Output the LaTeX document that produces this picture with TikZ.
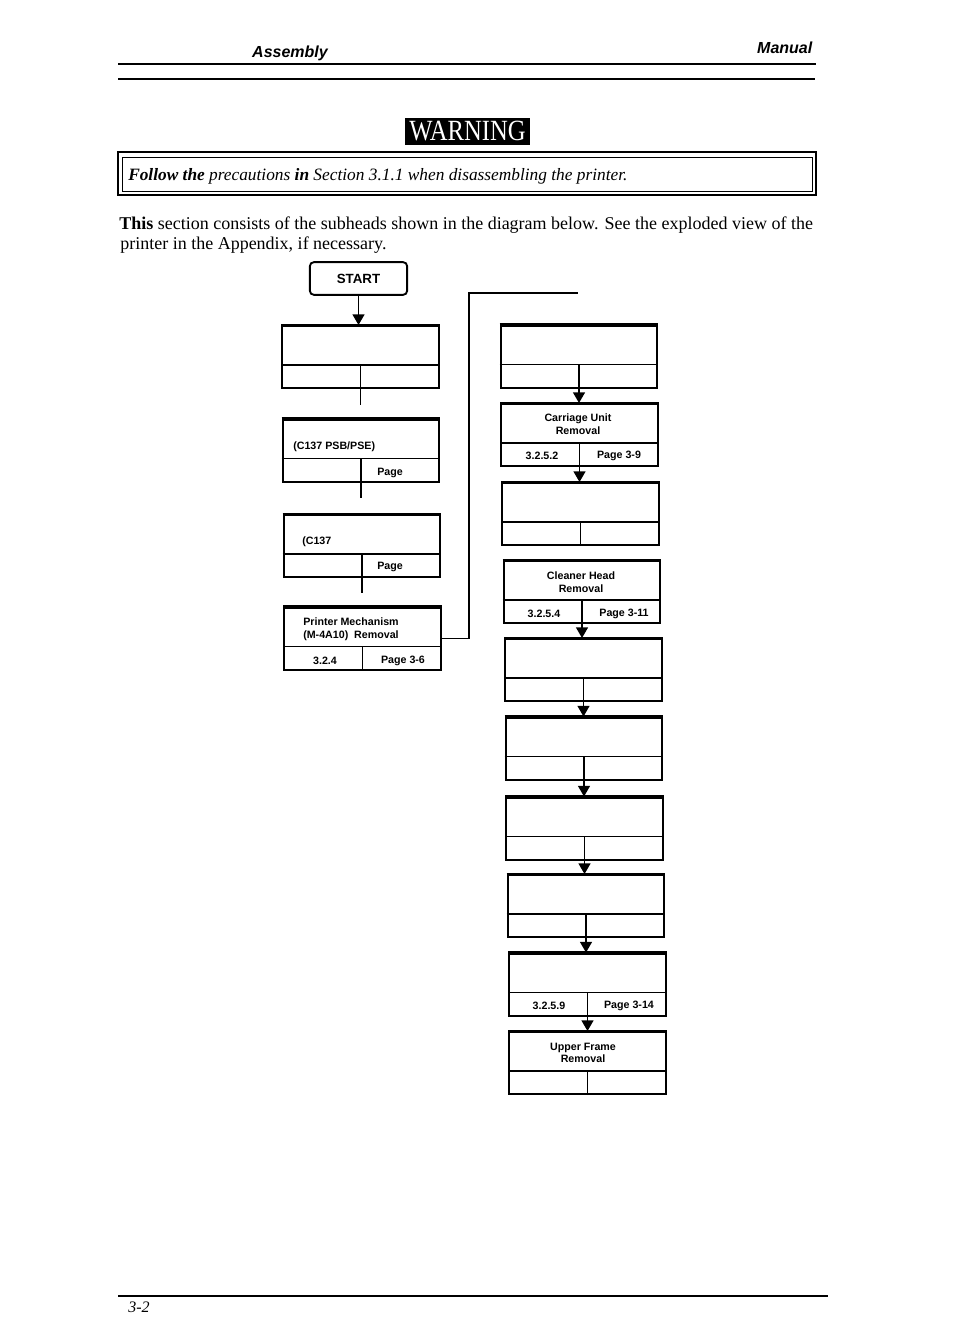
\documentclass[tikz,border=0pt]{standalone}
\usepackage{fontspec}
\setmainfont{Liberation Serif}
\setsansfont{Liberation Sans}
\usetikzlibrary{arrows.meta, calc, positioning}
\tikzset{
  subbox/.style={draw, line width=1.5pt, minimum width=117.5pt, minimum height=46.5pt, inner sep=0pt},
  boxtext/.style={font=\sffamily\bfseries\fontsize{8}{9.5}\selectfont, align=center, inner sep=0pt},
  flow/.style={line width=1pt, -{Triangle[width=9pt,length=8pt]}},
  stub/.style={line width=0.8pt},
}
\begin{document}
\begin{tikzpicture}[x=0.75pt, y=-0.75pt]
        \useasboundingbox[fill=white] (0,0) rectangle (954,1344);

        % Running head
        \node[anchor=base, font=\sffamily\bfseries\itshape\fontsize{12}{14}\selectfont] (headl) at (290,58) {Assembly};
        \node[anchor=base east, font=\sffamily\bfseries\itshape\fontsize{12}{14}\selectfont] (headr) at (817,54) {Manual};
        \draw[line width=1.5pt] (118,64) -- (816,64);
        \draw[line width=0.8pt] (118,79) -- (815,79);

        % Warning
        \node[fill=black, text=white, font=\fontsize{22}{22}\selectfont, minimum width=94pt, minimum height=20pt, inner sep=0.5pt] (warn) at (467.5,131.5) {\scalebox{0.84}[1]{WARNING}};
        \draw[line width=1.6pt] (118,152) rectangle (816,195);
        \draw[line width=0.6pt] (122,157) rectangle (812,191);
        \node[anchor=base west, font=\itshape\fontsize{13}{15}\selectfont, inner sep=0pt] (warntext) at (128,181)
            {\textbf{Follow the} precautions \textbf{in} Section 3.1.1 when disassembling the printer.};

        % Intro
        \node[anchor=base west, font=\fontsize{13.5}{15}\selectfont, inner sep=0pt] (introa) at (119,230)
            {\textbf{This} section consists of the subheads shown in the diagram below. See the exploded view of the};
        \node[anchor=base west, font=\fontsize{13.5}{15}\selectfont, inner sep=0pt] (introb) at (120,250)
            {printer in the Appendix, if necessary.};

        % Start
        \node[draw, rounded corners=3pt, line width=1.4pt, minimum width=73pt, minimum height=24.5pt,
              font=\sffamily\bfseries\fontsize{10}{12}\selectfont] (start) at (358.5,278.5) {START};

        % Left column
        \node[subbox] (l1) at (360.5,357) {};
        \node[subbox] (l2) at (361,450.5) {};
        \node[subbox] (l3) at (362,546) {};
        \node[subbox] (l4) at (362.5,638.5) {};

        % Right column
        \node[subbox] (r1) at (579,356.5) {};
        \node[subbox] (r2) at (579.5,435) {};
        \node[subbox] (r3) at (580.5,514) {};
        \node[subbox] (r4) at (582,592) {};
        \node[subbox] (r5) at (583.5,670) {};
        \node[subbox] (r6) at (584,748.5) {};
        \node[subbox] (r7) at (584.5,828.5) {};
        \node[subbox] (r8) at (586,906) {};
        \node[subbox] (r9) at (587.5,984.5) {};
        \node[subbox] (r10) at (587.5,1063) {};

        % Dividers
        \foreach \b in {l1,l2,l3,l4,r1,r2,r3,r4,r5,r6,r7,r8,r9,r10} {
            \draw[line width=2.2pt] (\b.north west) -- (\b.north east);
            \draw[stub] ($(\b.south west)+(0,-24)$) -- ($(\b.south east)+(0,-24)$);
            \draw[stub] (\b.south) -- ++(0,-24);
        }

        % Labels
        \node[boxtext, anchor=west] (l2a) at (293,447) {(C137 PSB/PSE)};
        \node[boxtext] (l2p) at (390,473) {Page};
        \node[boxtext, anchor=west] (l3a) at (302,542) {(C137};
        \node[boxtext] (l3p) at (390,567) {Page};
        \node[boxtext, anchor=west, align=left] (l4a) at (303,629) {Printer Mechanism\\(M-4A10)~~Removal};
        \node[boxtext] (l4n) at (325,661) {3.2.4};
        \node[boxtext] (l4p) at (403,661) {Page 3-6};
        \node[boxtext] (r2a) at (578,424) {Carriage Unit\\Removal};
        \node[boxtext] (r2n) at (542,456) {3.2.5.2};
        \node[boxtext] (r2p) at (619,456) {Page 3-9};
        \node[boxtext] (r4a) at (581,582) {Cleaner Head\\Removal};
        \node[boxtext] (r4n) at (544,614) {3.2.5.4};
        \node[boxtext] (r4p) at (624,614) {Page 3-11};
        \node[boxtext] (r9n) at (549,1006) {3.2.5.9};
        \node[boxtext] (r9p) at (629,1006) {Page 3-14};
        \node[boxtext] (r10a) at (583,1053) {Upper Frame\\Removal};

        % Connectors
        \draw[flow] (start.south) -- (start.south |- l1.north);
        \draw[stub] (l1.south) -- ++(0,16);
        \draw[stub] (l2.south) -- ++(0,15);
        \draw[stub] (l3.south) -- ++(0,15);
        \coordinate (bend) at (469,293);
        \coordinate (feed) at (578,293);
        \draw[stub] (l4.east) -| (bend) -- (feed);
        \foreach \a/\b in {r1/r2, r2/r3, r4/r5, r5/r6, r6/r7, r7/r8, r8/r9, r9/r10}
            \draw[flow] (\a.south) -- (\a.south |- \b.north);

        % Foot
        \draw[line width=1.5pt] (118,1296) -- (828,1296);
        \node[anchor=base west, font=\itshape\fontsize{12}{14}\selectfont, inner sep=0pt] (folio) at (128,1312) {3-2};
\end{tikzpicture}
\end{document}
